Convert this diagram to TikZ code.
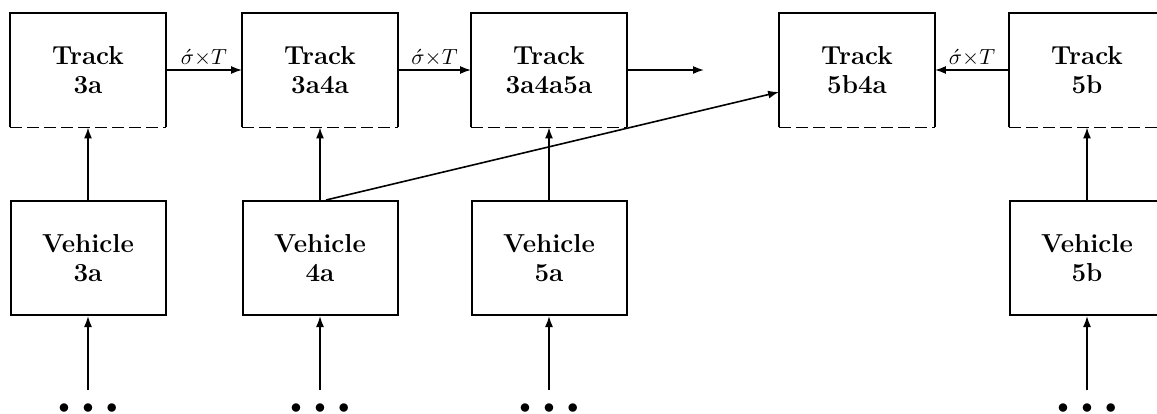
\documentclass[tikz,border=0pt]{standalone}
\usepackage{amsmath}
\usetikzlibrary{arrows.meta, calc}

\begin{document}
\begin{tikzpicture}[
    x=0.5pt, y=-0.5pt,
    trackbox/.style ={minimum width=77.5pt, minimum height=57pt, inner sep=0pt,
                      align=center, font=\fontsize{13}{14.5}\selectfont\bfseries},
    vehbox/.style   ={trackbox, draw=black, line width=1pt},
    boxline/.style  ={line width=1pt, draw=black},
    botline/.style  ={line width=0.7pt, draw=black, dash pattern=on 6pt off 2.5pt},
    link/.style     ={-{Latex[length=5.5pt, width=4pt]}, line width=0.8pt},
    msglabel/.style ={font=\fontsize{11}{12}\selectfont, inner sep=0.5pt, yshift=1pt},
    dotrow/.style   ={font=\fontsize{11}{12}\selectfont, inner sep=0pt}
]
\useasboundingbox (0,0) rectangle (1157,413);

% ---------- layout parameters (px of the sheet) ----------
\def\trackRow{70}     % centre line of the track boxes
\def\vehRow{258}      % centre line of the vehicle boxes
\def\dotRow{409}      % row of the continuation dots
\def\feedRow{390}     % upper end of the feeds from below

% ---------- track boxes ----------
\node[trackbox] (t3a)     at (88,\trackRow)   {Track\\3a};
\node[trackbox] (t3a4a)   at (320,\trackRow)  {Track\\3a4a};
\node[trackbox] (t3a4a5a) at (549,\trackRow)  {Track\\3a4a5a};
\node[trackbox] (t5b4a)   at (857,\trackRow)  {Track\\5b4a};
\node[trackbox] (t5b)     at (1087,\trackRow) {Track\\5b};

% three solid sides, broken bottom edge
\foreach \n in {t3a, t3a4a, t3a4a5a, t5b4a, t5b} {
  \draw[boxline] (\n.south west) -- (\n.north west) -- (\n.north east) -- (\n.south east);
  \draw[botline] (\n.south west) -- (\n.south east);
}

% ---------- vehicle boxes ----------
\node[vehbox] (v3a) at (88,\vehRow)   {Vehicle\\3a};
\node[vehbox] (v4a) at (320,\vehRow)  {Vehicle\\4a};
\node[vehbox] (v5a) at (549,\vehRow)  {Vehicle\\5a};
\node[vehbox] (v5b) at (1087,\vehRow) {Vehicle\\5b};

% ---------- continuation dots and feeds ----------
\foreach \v/\x in {3a/88, 4a/320, 5a/549, 5b/1087} {
  \node[dotrow] (d\v) at (\x,\dotRow) {${\bullet}\hspace{6.5pt}{\bullet}\hspace{6.5pt}{\bullet}$};
  \coordinate (f\v) at (\x,\feedRow);
  \draw[link] (f\v) -- (v\v.south);
}

% ---------- vehicle to track ----------
\draw[link] (v3a.north) -- (t3a.south);
\draw[link] (v4a.north) -- (t3a4a.south);
\draw[link] (v5a.north) -- (t3a4a5a.south);
\draw[link] (v5b.north) -- (t5b.south);
\draw[link] ($(v4a.north)+(6,0)$) -- ($(t5b4a.west)+(0,22)$);

% ---------- track to track ----------
\draw[link] (t3a.east) -- (t3a4a.west)
    node[midway, above, msglabel] {$\acute{\sigma}{\times}T$};
\draw[link] (t3a4a.east) -- (t3a4a5a.west)
    node[midway, above, msglabel] {$\acute{\sigma}{\times}T$};
\coordinate (out5a) at (704,\trackRow);
\draw[link] (t3a4a5a.east) -- (out5a);
\draw[link] (t5b.west) -- (t5b4a.east)
    node[midway, above, msglabel] {$\acute{\sigma}{\times}T$};

\end{tikzpicture}
\end{document}
